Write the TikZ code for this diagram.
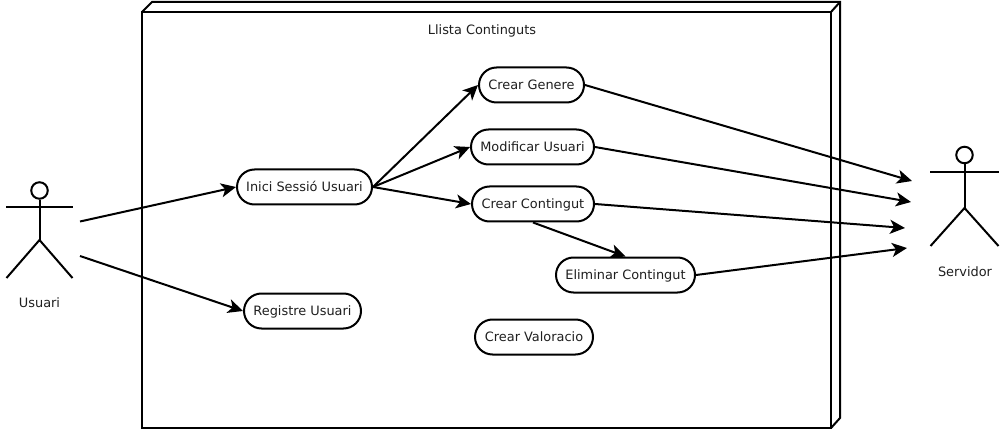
\documentclass[tikz,border=0pt]{standalone}
\usepackage{fontspec}
\setmainfont{DejaVu Sans}
\usetikzlibrary{arrows.meta}
\tikzset{
  x=1pt,y=-1pt,
  line/.style={line width=2pt,line join=miter},
  usecase/.style={draw,line width=2pt,rounded corners=17.5pt,minimum height=35pt,inner sep=0pt,text height=9.6pt,text depth=0pt,text=black!88,font=\fontsize{12.9}{15}\selectfont},
  txt/.style={inner sep=0pt,text height=9.6pt,text depth=0pt,text=black!88,font=\fontsize{12.9}{15}\selectfont},
  flow/.style={line,-{Stealth[length=15pt,width=14pt,inset=4pt]}},
  head/.style={draw,circle,line width=2pt,minimum size=16.5pt,inner sep=0pt}
}
\begin{document}
\begin{tikzpicture}
\useasboundingbox (0,0) rectangle (1008,430);
\fill[white] (0,0) rectangle (1008,430);
% package box
\draw[line] (142,12) rectangle (831,428);
\draw[line] (142,12) -- (152,2) -- (840,2) -- (840,418) -- (831,428);
\draw[line] (831,12) -- (840,2);
\node[txt] (title) at (482,29.5) {Llista Continguts};
% use cases
\node[usecase,minimum width=135pt] (inici) at (304.5,187) {Inici Sessió Usuari};
\node[usecase,minimum width=117pt] (registre) at (302.5,311) {Registre Usuari};
\node[usecase,minimum width=105pt] (genere) at (531.5,85) {Crear Genere};
\node[usecase,minimum width=123pt] (modificar) at (532.5,147) {Modificar Usuari};
\node[usecase,minimum width=122pt] (contingut) at (533,204) {Crear Contingut};
\node[usecase,minimum width=139pt] (eliminar) at (625.5,275) {Eliminar Contingut};
\node[usecase,minimum width=118pt] (valoracio) at (534,337) {Crear Valoracio};
% Usuari actor
\node[head] (uhead) at (39.5,190.5) {};
\coordinate (uneck) at (39.5,240);
\draw[line] (uhead.south) -- (uneck);
\draw[line] (6,207) -- (73,207);
\draw[line] (6.5,278) -- (uneck) -- (72.5,278);
\node[txt] (usuari) at (39.5,303) {Usuari};
% Servidor actor
\node[head] (shead) at (964.5,155) {};
\coordinate (sneck) at (964.5,208);
\draw[line] (shead.south) -- (sneck);
\draw[line] (930,172) -- (999,172);
\draw[line] (930.5,246) -- (sneck) -- (998.5,246);
\node[txt] (servidor) at (965,272) {Servidor};
% free ends
\coordinate (u1) at (80,221.5);
\coordinate (u2) at (80,256);
\coordinate (s1) at (912,181);
\coordinate (s2) at (911,202);
\coordinate (s3) at (905,228);
\coordinate (s4) at (907,248);
% connectors
\draw[flow] (u1) -- (inici.west);
\draw[flow] (u2) -- (registre.west);
\draw[flow] (inici.east) -- (genere.west);
\draw[flow] (inici.east) -- (modificar.west);
\draw[flow] (inici.east) -- (contingut.west);
\draw[flow] (contingut.south) -- (eliminar.north);
\draw[flow] (genere.east) -- (s1);
\draw[flow] (modificar.east) -- (s2);
\draw[flow] (contingut.east) -- (s3);
\draw[flow] (eliminar.east) -- (s4);
\end{tikzpicture}
\end{document}
